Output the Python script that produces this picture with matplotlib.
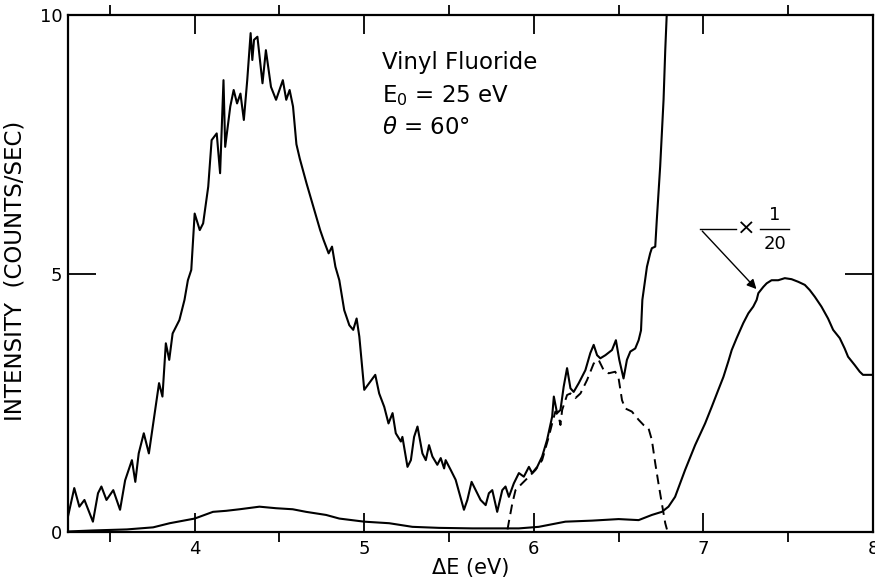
import matplotlib
matplotlib.use("Agg")
import matplotlib.pyplot as plt
from matplotlib.ticker import MultipleLocator

# energy loss spectrum
main_x = [3.253, 3.29, 3.32, 3.35, 3.40, 3.43, 3.45, 3.48, 3.52, 3.56, 3.59, 3.63, 3.65,
          3.67, 3.70, 3.73, 3.77, 3.79, 3.81, 3.83, 3.85, 3.87, 3.91, 3.94, 3.96, 3.98,
          4.00, 4.03, 4.05, 4.08, 4.10, 4.13, 4.15, 4.17, 4.18, 4.21, 4.23, 4.25, 4.27,
          4.29, 4.31, 4.33, 4.34, 4.35, 4.37, 4.40, 4.42, 4.45, 4.48, 4.52, 4.54, 4.56,
          4.58, 4.60, 4.62, 4.66, 4.70, 4.74, 4.76, 4.79, 4.81, 4.83, 4.853, 4.882, 4.912,
          4.935, 4.955, 4.971, 5.000, 5.029, 5.065, 5.088, 5.118, 5.143, 5.167, 5.186,
          5.216, 5.225, 5.255, 5.275, 5.294, 5.314, 5.343, 5.363, 5.382, 5.402, 5.431,
          5.451, 5.471, 5.480, 5.510, 5.539, 5.569, 5.588, 5.608, 5.633, 5.657, 5.686,
          5.716, 5.735, 5.755, 5.784, 5.814, 5.833, 5.853, 5.882, 5.912, 5.941, 5.971,
          5.990, 6.020, 6.049, 6.078, 6.108, 6.118, 6.137, 6.157, 6.176, 6.196, 6.216,
          6.235, 6.265, 6.304, 6.333, 6.353, 6.373, 6.392, 6.422, 6.461, 6.484, 6.504,
          6.529, 6.549, 6.569, 6.598, 6.618, 6.632, 6.640, 6.667, 6.686, 6.696, 6.716,
          6.725, 6.745, 6.765, 6.775, 6.784]
main_y = [0.30, 0.85, 0.49, 0.62, 0.20, 0.75, 0.88, 0.62, 0.81, 0.43, 1.00, 1.39, 0.97,
          1.52, 1.91, 1.52, 2.42, 2.88, 2.62, 3.65, 3.33, 3.84, 4.10, 4.49, 4.87, 5.07,
          6.16, 5.84, 5.97, 6.68, 7.58, 7.71, 6.94, 8.74, 7.45, 8.23, 8.55, 8.29, 8.48,
          7.97, 8.74, 9.65, 9.13, 9.52, 9.58, 8.68, 9.32, 8.61, 8.36, 8.74, 8.36, 8.55,
          8.23, 7.50, 7.22, 6.74, 6.29, 5.84, 5.65, 5.39, 5.52, 5.13, 4.87, 4.29, 4.00,
          3.91, 4.13, 3.78, 2.75, 2.88, 3.04, 2.68, 2.42, 2.10, 2.30, 1.91,
          1.75, 1.84, 1.26, 1.39, 1.84, 2.04, 1.52, 1.39, 1.68, 1.46, 1.30,
          1.43, 1.23, 1.39, 1.20, 1.01, 0.65, 0.43, 0.62, 0.97, 0.81, 0.62,
          0.52, 0.75, 0.81, 0.39, 0.81, 0.88, 0.68, 0.94, 1.14, 1.07, 1.26,
          1.14, 1.26, 1.46, 1.78, 2.23, 2.62, 2.30, 2.36, 2.81, 3.17, 2.78,
          2.71, 2.88, 3.13, 3.46, 3.62, 3.42, 3.36, 3.42, 3.52, 3.71, 3.33,
          2.97, 3.33, 3.49, 3.55, 3.71, 3.90, 4.49, 5.13, 5.39, 5.49, 5.52,
          6.03, 7.07, 8.36, 9.32, 10.03]

# same spectrum at x 1/20 continuing into the big peak
low_x = [3.253, 3.40, 3.60, 3.755, 3.853, 4.0, 4.108, 4.186, 4.265, 4.382, 4.48, 4.578,
         4.657, 4.775, 4.853, 5.0, 5.147, 5.284, 5.441, 5.637, 5.912, 6.029, 6.186, 6.343,
         6.5, 6.618, 6.696, 6.755, 6.794, 6.833, 6.892, 6.951, 7.010, 7.049, 7.088, 7.118,
         7.147, 7.167, 7.196, 7.235, 7.265, 7.294, 7.314, 7.324, 7.353, 7.373, 7.402,
         7.441, 7.480, 7.520, 7.559, 7.598, 7.627, 7.657, 7.696, 7.735, 7.765, 7.804,
         7.833, 7.853, 7.892, 7.922, 7.941, 7.99]
low_y = [0.01, 0.03, 0.05, 0.09, 0.17, 0.26, 0.39, 0.41, 0.44, 0.49, 0.46, 0.44,
         0.39, 0.33, 0.26, 0.20, 0.17, 0.10, 0.08, 0.07, 0.07, 0.10, 0.20, 0.22,
         0.25, 0.23, 0.33, 0.39, 0.49, 0.68, 1.20, 1.68, 2.10, 2.42, 2.75, 3.00,
         3.30, 3.52, 3.75, 4.04, 4.23, 4.36, 4.49, 4.62, 4.74, 4.81, 4.87,
         4.87, 4.91, 4.89, 4.84, 4.78, 4.68, 4.55, 4.36, 4.13, 3.91, 3.75,
         3.55, 3.39, 3.23, 3.10, 3.04, 3.04]

# dashed curve (subtracted band)
dash_x = [5.845, 5.853, 5.873, 5.892, 5.931, 5.971, 6.010, 6.049, 6.088, 6.108, 6.127,
          6.147, 6.157, 6.167, 6.196, 6.216, 6.245, 6.275, 6.314, 6.353, 6.382, 6.412,
          6.441, 6.480, 6.500, 6.520, 6.539, 6.578, 6.618, 6.647, 6.676, 6.696, 6.716,
          6.735, 6.755, 6.775, 6.785]
dash_y = [0.05, 0.20, 0.55, 0.81, 0.94, 1.07, 1.20, 1.39, 1.84, 2.10, 2.33,
          2.23, 2.07, 2.36, 2.65, 2.68, 2.59, 2.68, 2.94, 3.26, 3.33, 3.13,
          3.07, 3.10, 2.97, 2.55, 2.39, 2.33, 2.17, 2.07, 2.01, 1.78, 1.33,
          0.94, 0.55, 0.17, 0.05]

x_ticks = [4, 5, 6, 7, 8]
y_ticks = [0, 5, 10]

fig = plt.figure(figsize=(8.75, 5.82), dpi=100)
ax = fig.add_axes([0.0777, 0.0859, 0.92, 0.8883])

ax.plot(main_x, main_y, color="black", lw=1.5)
ax.plot(low_x, low_y, color="black", lw=1.5)
ax.plot(dash_x, dash_y, color="black", lw=1.4, ls=(0, (5, 3)))

ax.set_xlim(3.253, 7.99)
ax.set_ylim(0, 10)
ax.set_xticks(x_ticks)
ax.set_yticks(y_ticks)
ax.xaxis.set_minor_locator(MultipleLocator(0.5))
ax.tick_params(direction="in", top=True, right=True, labelsize=13, width=1.3, pad=6)
ax.tick_params(axis="x", which="major", length=14)
ax.tick_params(axis="x", which="minor", length=7, width=1.3, top=True)
ax.tick_params(axis="y", which="major", length=20, pad=4)
for s in ax.spines.values():
    s.set_linewidth(1.6)

ax.set_xlabel("ΔE (eV)", fontsize=15, labelpad=0)
ax.set_ylabel("INTENSITY  (COUNTS/SEC)", fontsize=16.5, labelpad=2)
ax.yaxis.set_label_coords(-0.052, 0.505)

# labels in the plot
ax.text(5.106, 9.09, "Vinyl Fluoride", fontsize=16.5, va="center")
ax.text(5.106, 8.45, r"E$_{\mathregular{0}}$ = 25 eV", fontsize=16.5, va="center")
ax.text(5.106, 7.83, r"$\theta$ = 60°", fontsize=16.5, va="center")

# x 1/20 marker with arrow
ax.plot([6.982, 7.194], [5.86, 5.86], color="black", lw=1.0)
ax.annotate("", xy=(7.324, 4.66), xytext=(6.982, 5.86),
            arrowprops=dict(arrowstyle="-|>", color="black", lw=1.0, mutation_scale=14))
ax.text(7.25, 5.86, "×", fontsize=16, ha="center", va="center")
ax.text(7.42, 6.13, "1", fontsize=13, ha="center", va="center")
ax.plot([7.335, 7.505], [5.86, 5.86], color="black", lw=1.0)
ax.text(7.42, 5.58, "20", fontsize=13, ha="center", va="center")

fig.savefig("out.png", dpi=100)
